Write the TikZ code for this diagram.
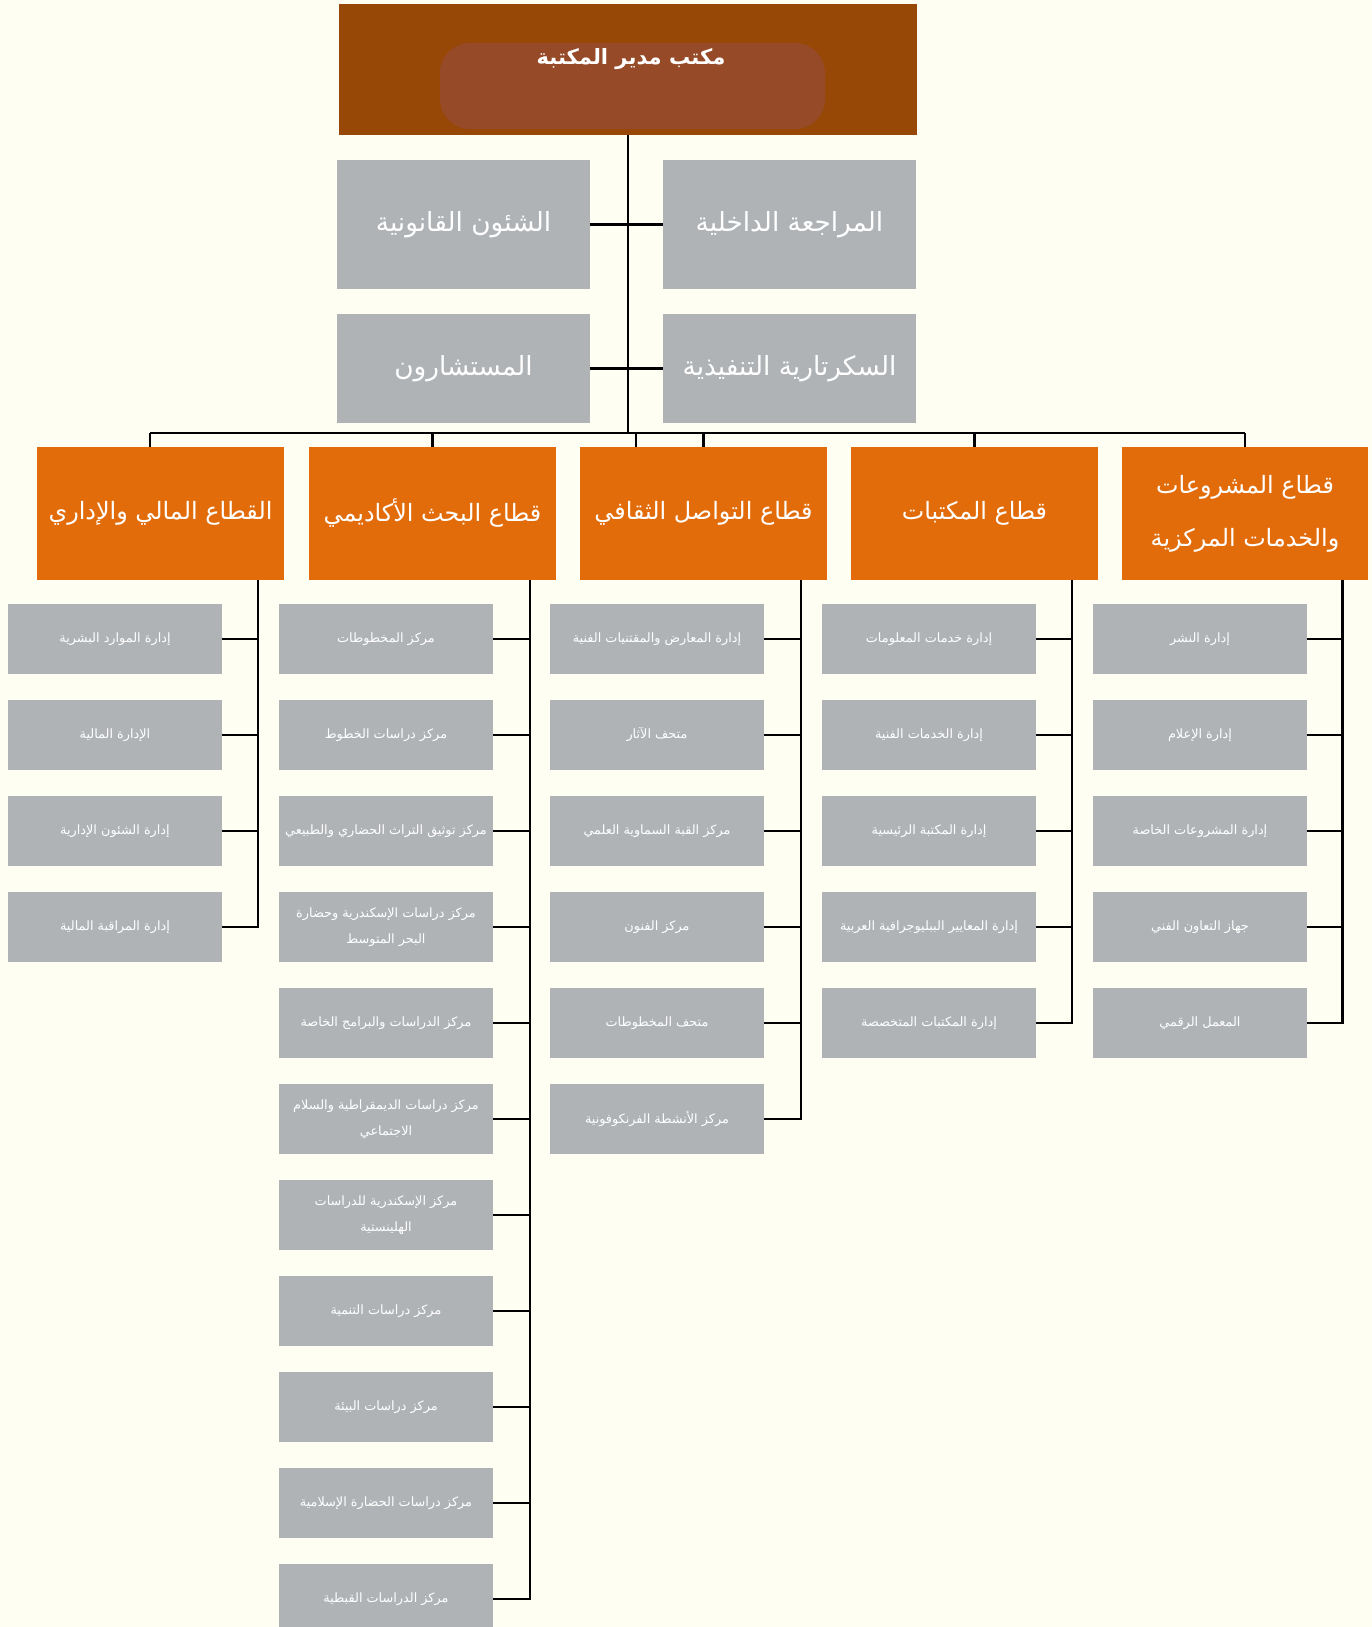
\documentclass[tikz,border=0pt]{standalone}
\usepackage{fontspec}
\newfontfamily\arabicfont[Script=Arabic]{DejaVu Sans}
\TeXXeTstate=1
\usetikzlibrary{calc, positioning}
\newcommand{\artxt}[1]{\beginR #1\endR}
\definecolor{bgcream}{HTML}{FFFEF2}
\definecolor{headbrown}{HTML}{984806}
\definecolor{headpad}{HTML}{964A28}
\definecolor{boxgray}{HTML}{B0B3B6}
\definecolor{sectorange}{HTML}{E36C0A}

\begin{document}
\begin{tikzpicture}[x=0.02cm, y=-0.02cm,
  conn/.style={draw=black, line width=1.6pt, line join=miter},
  subconn/.style={draw=black, line width=1.5pt},
  plainbox/.style={inner sep=0pt, outer sep=0pt, text=white, align=center},
  headbox/.style={plainbox, fill=headbrown, minimum width=11.56cm, minimum height=2.62cm},
  padbox/.style={plainbox, fill=headpad, rounded corners=0.6cm, minimum width=7.7cm, minimum height=1.72cm},
  titletxt/.style={plainbox, font=\arabicfont\bfseries\fontsize{12}{14}\selectfont},
  staffbox/.style={plainbox, fill=boxgray, minimum width=5.06cm, font=\arabicfont\fontsize{15}{18}\selectfont},
  sectbox/.style={plainbox, fill=sectorange, minimum width=4.94cm, minimum height=2.66cm, font=\arabicfont\fontsize{13.6}{30}\selectfont},
  unitbox/.style={plainbox, fill=boxgray, minimum width=4.28cm, minimum height=1.4cm, font=\arabicfont\fontsize{7.3}{15}\selectfont}]
  % page
  \fill[bgcream] (0,0) rectangle (1372,1627);
  \useasboundingbox (0,0) rectangle (1372,1627);
  \clip (0,0) rectangle (1372,1627);

  % director
  \node[headbox] (head) at (628,69.5) {};
  \node[padbox] (pad) at (632.5,86) {};
  \node[titletxt] (title) at (631,59) {\artxt{مكتب مدير المكتبة}};

  % staff units
  \node[staffbox, minimum height=2.58cm] (legal) at (463.5,224.5) {\artxt{الشئون القانونية}};
  \node[staffbox, minimum height=2.58cm] (audit) at (789.5,224.5) {\artxt{المراجعة الداخلية}};
  \node[staffbox, minimum height=2.18cm] (advisors) at (463.5,368.5) {\artxt{المستشارون}};
  \node[staffbox, minimum height=2.18cm] (secretariat) at (789.5,368.5) {\artxt{السكرتارية التنفيذية}};

  % sectors
  \node[sectbox] (finadm) at (160.5,513.5) {\artxt{القطاع المالي والإداري}};
  \node[sectbox] (research) at (432.5,513.5) {\artxt{قطاع البحث الأكاديمي}};
  \node[sectbox] (culture) at (703.5,513.5) {\artxt{قطاع التواصل الثقافي}};
  \node[sectbox] (libs) at (974.5,513.5) {\artxt{قطاع المكتبات}};
  \node[sectbox] (projects) at (1245,513.5) {\artxt{قطاع المشروعات}\\\artxt{والخدمات المركزية}};

  % trunk and bus
  \coordinate (busL) at (150,433);
  \coordinate (tick) at (636,433);
  \draw[conn] (head.south) -- (head.south |- busL);
  \draw[conn] (busL) -- (projects.north |- busL);
  \draw[subconn] (busL) -- (busL |- finadm.north);
  \draw[subconn] (tick) -- (tick |- culture.north);
  \foreach \s in {research,culture,libs,projects}
    \draw[subconn] (\s.north |- busL) -- (\s.north);
  \draw[subconn] (legal.east) -- (audit.west);
  \draw[subconn] (advisors.east) -- (secretariat.west);

  % units of each sector
  \foreach \t [count=\k] in {{\artxt{إدارة الموارد البشرية}}, {\artxt{الإدارة المالية}},
      {\artxt{إدارة الشئون الإدارية}}, {\artxt{إدارة المراقبة المالية}}}
    \node[unitbox] (fin\k) at (115,543+96*\k) {\t};
  \foreach \t [count=\k] in {{\artxt{مركز المخطوطات}}, {\artxt{مركز دراسات الخطوط}},
      {\artxt{مركز توثيق التراث الحضاري والطبيعي}},
      {\artxt{مركز دراسات الإسكندرية وحضارة}\\\artxt{البحر المتوسط}},
      {\artxt{مركز الدراسات والبرامج الخاصة}},
      {\artxt{مركز دراسات الديمقراطية والسلام}\\\artxt{الاجتماعي}},
      {\artxt{مركز الإسكندرية للدراسات}\\\artxt{الهلينستية}},
      {\artxt{مركز دراسات التنمية}}, {\artxt{مركز دراسات البيئة}},
      {\artxt{مركز دراسات الحضارة الإسلامية}}, {\artxt{مركز الدراسات القبطية}}}
    \node[unitbox] (res\k) at (386,543+96*\k) {\t};
  \foreach \t [count=\k] in {{\artxt{إدارة المعارض والمقتنيات الفنية}}, {\artxt{متحف الآثار}},
      {\artxt{مركز القبة السماوية العلمي}}, {\artxt{مركز الفنون}},
      {\artxt{متحف المخطوطات}}, {\artxt{مركز الأنشطة الفرنكوفونية}}}
    \node[unitbox] (cul\k) at (657,543+96*\k) {\t};
  \foreach \t [count=\k] in {{\artxt{إدارة خدمات المعلومات}}, {\artxt{إدارة الخدمات الفنية}},
      {\artxt{إدارة المكتبة الرئيسية}}, {\artxt{إدارة المعايير الببليوجرافية العربية}},
      {\artxt{إدارة المكتبات المتخصصة}}}
    \node[unitbox] (lib\k) at (929,543+96*\k) {\t};
  \foreach \t [count=\k] in {{\artxt{إدارة النشر}}, {\artxt{إدارة الإعلام}},
      {\artxt{إدارة المشروعات الخاصة}}, {\artxt{جهاز التعاون الفني}},
      {\artxt{المعمل الرقمي}}}
    \node[unitbox] (prj\k) at (1200,543+96*\k) {\t};

  % sector connectors
  \coordinate (vfin) at ($(finadm.south west)+(221,0)$);
  \coordinate (vres) at ($(research.south west)+(221,0)$);
  \coordinate (vcul) at ($(culture.south west)+(221,0)$);
  \coordinate (vlib) at ($(libs.south west)+(221,0)$);
  \coordinate (vprj) at ($(projects.south west)+(221,0)$);
  \draw[subconn, line join=miter] (vfin) -- (vfin |- fin4.east) -- (fin4.east);
  \draw[subconn, line join=miter] (vres) -- (vres |- res11.east) -- (res11.east);
  \draw[subconn, line join=miter] (vcul) -- (vcul |- cul6.east) -- (cul6.east);
  \draw[subconn, line join=miter] (vlib) -- (vlib |- lib5.east) -- (lib5.east);
  \draw[subconn, line join=miter] (vprj) -- (vprj |- prj5.east) -- (prj5.east);
  \foreach \k in {1,...,3} \draw[subconn] (fin\k.east) -- (fin\k.east -| vfin);
  \foreach \k in {1,...,10} \draw[subconn] (res\k.east) -- (res\k.east -| vres);
  \foreach \k in {1,...,5} \draw[subconn] (cul\k.east) -- (cul\k.east -| vcul);
  \foreach \k in {1,...,4} \draw[subconn] (lib\k.east) -- (lib\k.east -| vlib);
  \foreach \k in {1,...,4} \draw[subconn] (prj\k.east) -- (prj\k.east -| vprj);
\end{tikzpicture}
\end{document}
